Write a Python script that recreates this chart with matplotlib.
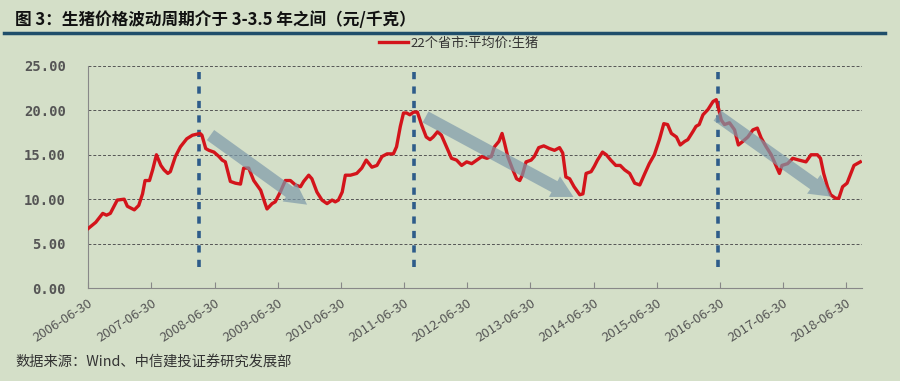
"""Hog price cycle chart (22 provinces average)."""

import matplotlib.pyplot as plt

plt.rcParams['font.family'] = ['Noto Sans CJK SC', 'DejaVu Sans']

# decimal year, yuan/kg
years = [2006.50, 2006.62, 2006.73, 2006.79, 2006.85, 2006.96, 2007.07, 2007.12, 2007.23, 2007.30,
         2007.36, 2007.40, 2007.47, 2007.52, 2007.58, 2007.65, 2007.70, 2007.76, 2007.80, 2007.88,
         2007.96, 2008.06, 2008.15, 2008.27, 2008.30, 2008.36, 2008.41, 2008.49, 2008.57, 2008.62,
         2008.67, 2008.75, 2008.83, 2008.91, 2008.96, 2009.04, 2009.12, 2009.23, 2009.30, 2009.33,
         2009.41, 2009.46, 2009.54, 2009.62, 2009.70, 2009.78, 2009.86, 2009.91, 2009.99, 2010.04,
         2010.12, 2010.20, 2010.28, 2010.36, 2010.41, 2010.46, 2010.52, 2010.57, 2010.65, 2010.75,
         2010.83, 2010.90, 2010.99, 2011.07, 2011.15, 2011.23, 2011.33, 2011.38, 2011.44, 2011.49,
         2011.54, 2011.59, 2011.65, 2011.71, 2011.78, 2011.85, 2011.91, 2011.96, 2012.03, 2012.09,
         2012.17, 2012.25, 2012.33, 2012.41, 2012.49, 2012.57, 2012.65, 2012.73, 2012.81, 2012.88,
         2012.93, 2013.00, 2013.05, 2013.09, 2013.14, 2013.21, 2013.28, 2013.33, 2013.37, 2013.43,
         2013.51, 2013.56, 2013.63, 2013.71, 2013.80, 2013.88, 2013.96, 2014.01, 2014.06, 2014.12,
         2014.19, 2014.28, 2014.33, 2014.38, 2014.46, 2014.51, 2014.56, 2014.64, 2014.70, 2014.77,
         2014.85, 2014.92, 2014.99, 2015.07, 2015.15, 2015.23, 2015.31, 2015.38, 2015.46, 2015.54,
         2015.61, 2015.67, 2015.73, 2015.81, 2015.87, 2015.94, 2015.99, 2016.07, 2016.12, 2016.17,
         2016.23, 2016.31, 2016.39, 2016.44, 2016.48, 2016.52, 2016.57, 2016.65, 2016.73, 2016.79,
         2016.86, 2016.94, 2017.02, 2017.09, 2017.15, 2017.23, 2017.31, 2017.39, 2017.44, 2017.48,
         2017.57, 2017.65, 2017.75, 2017.86, 2017.94, 2018.04, 2018.09, 2018.14, 2018.20, 2018.25,
         2018.33, 2018.38, 2018.44, 2018.51, 2018.57, 2018.62, 2018.67, 2018.72]
prices = [6.7, 7.4, 8.4, 8.2, 8.4, 9.9, 10.0, 9.2, 8.8, 9.3,
          10.6, 12.1, 12.1, 13.3, 15.0, 13.8, 13.3, 12.9, 13.1, 14.8,
          15.9, 16.8, 17.2, 17.4, 17.2, 15.7, 15.5, 15.3, 14.8, 14.4,
          14.2, 12.0, 11.8, 11.7, 13.5, 13.5, 12.1, 11.0, 9.5, 8.9,
          9.5, 9.7, 10.8, 12.1, 12.1, 11.6, 11.4, 12.0, 12.7, 12.3,
          10.8, 9.9, 9.5, 9.9, 9.7, 9.9, 10.8, 12.7, 12.7, 12.9,
          13.5, 14.4, 13.6, 13.8, 14.8, 15.1, 15.1, 15.9, 18.2, 19.7,
          19.7, 19.5, 19.8, 19.8, 18.3, 17.0, 16.7, 17.0, 17.6, 17.2,
          15.9, 14.6, 14.4, 13.8, 14.2, 14.0, 14.4, 14.8, 14.6, 14.8,
          15.9, 16.5, 17.4, 16.3, 14.8, 13.5, 12.3, 12.1, 12.7, 14.2,
          14.4, 14.8, 15.8, 16.0, 15.7, 15.5, 15.8, 15.2, 12.5, 12.3,
          11.4, 10.5, 10.6, 12.9, 13.1, 13.7, 14.4, 15.3, 15.0, 14.4,
          13.8, 13.8, 13.3, 12.9, 11.8, 11.6, 12.9, 14.0, 15.0, 16.7,
          18.5, 18.4, 17.4, 17.0, 16.1, 16.5, 16.7, 17.6, 18.2, 18.4,
          19.5, 20.1, 21.0, 21.2, 20.1, 18.9, 18.4, 18.6, 17.8, 16.1,
          16.5, 17.0, 17.8, 18.0, 16.9, 15.9, 15.0, 13.7, 12.9, 13.8,
          14.0, 14.6, 14.4, 14.2, 15.0, 15.0, 14.6, 12.9, 11.4, 10.5,
          10.1, 10.1, 11.4, 11.8, 12.9, 13.8, 14.0, 14.2]

tick_years = list(range(2006, 2019))
tick_labels = [f'{y}-06-30' for y in tick_years]

# cycle peaks (dashed lines) and the falls after them (arrows)
peak_years = [2008.25, 2011.66, 2016.46]
arrow_starts = [(2008.40, 17.4), (2011.80, 19.4), (2016.42, 19.6)]
arrow_ends = [(2010.00, 9.2), (2014.22, 10.1), (2018.30, 10.1)]

bg = '#D4DFC8'
fig = plt.figure(figsize=(9, 3.81), dpi=100, facecolor=bg)
ax = fig.add_axes([0.098, 0.244, 0.860, 0.583], facecolor=bg)

for (x0, y0), (x1, y1) in zip(arrow_starts, arrow_ends):
    ax.annotate('', xy=(x1, y1), xytext=(x0, y0),
                arrowprops=dict(arrowstyle='simple,head_width=1.4,head_length=1.3,tail_width=0.75',
                                mutation_scale=12, color='#7D9AAA', alpha=0.7, lw=0),
                zorder=6)

for x in peak_years:
    ax.plot([x, x], [2.4, 24.4], color='#2E5C8A', lw=2.6, ls=(0, (2, 2)), zorder=3)

ax.plot(years, prices, color='#D3141B', lw=2.4, zorder=5, label='22个省市:平均价:生猪')

ax.set_xlim(2006.5, 2018.75)
ax.set_ylim(0, 25)
ax.set_xticks([y + 0.5 for y in tick_years])
ax.set_xticklabels(tick_labels, rotation=33, ha='right', rotation_mode='anchor',
                   fontsize=9.5, color='#555555')
ax.set_yticks([0, 5, 10, 15, 20, 25])
ax.set_yticklabels([f'{v:.2f}' for v in [0, 5, 10, 15, 20, 25]],
                   family='DejaVu Sans Mono', fontsize=10, color='#555555', fontweight='bold')
ax.tick_params(axis='y', length=0, pad=16)
ax.tick_params(axis='x', length=4, color='#888888', direction='in', pad=6)
ax.grid(axis='y', ls=(0, (3, 2)), color='#555555', lw=0.7)
for side in ['top', 'right']:
    ax.spines[side].set_visible(False)
for side in ['left', 'bottom']:
    ax.spines[side].set_color('#888888')

ax.legend(loc='lower center', bbox_to_anchor=(0.479, 1.02), frameon=False, fontsize=9.5,
          handlelength=2.2, handletextpad=0.2, labelcolor='#333333')

fig.text(0.017, 0.948, '图 3：生猪价格波动周期介于 3-3.5 年之间（元/千克）',
         fontsize=12, fontweight='bold', color='#111111', va='center')
fig.add_artist(plt.Line2D([0.004, 0.983], [0.914, 0.914], color='#1F4E6B', lw=2.5))
fig.text(0.017, 0.05, '数据来源：Wind、中信建投证券研究发展部',
         fontsize=10.3, style='italic', color='#333333', va='center')

plt.savefig('out.png', dpi=100, facecolor=bg)
